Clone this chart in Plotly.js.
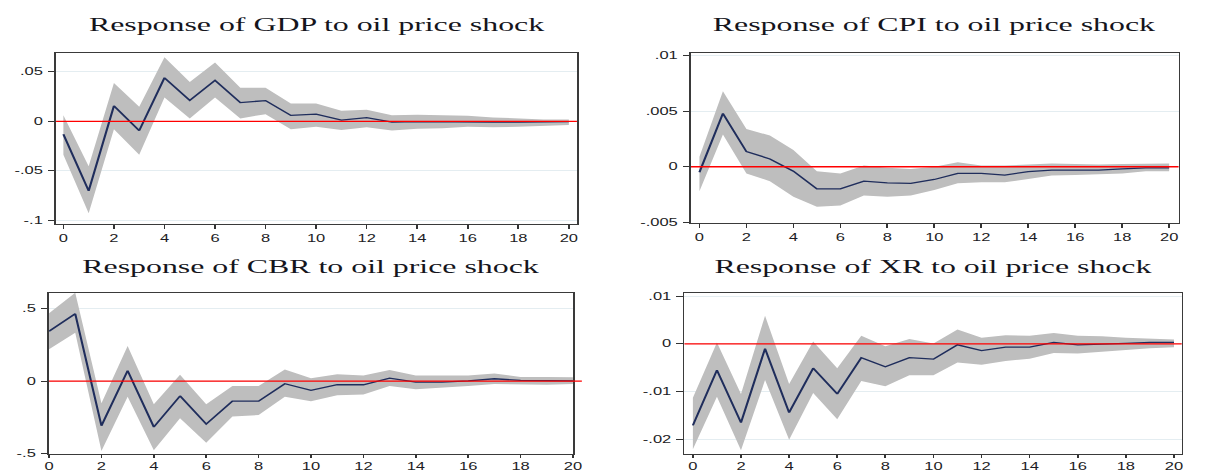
<!DOCTYPE html>
<html>
<head>
<meta charset="utf-8">
<script src="https://cdn.plot.ly/plotly-3.0.1.min.js"></script>
<style>
  html, body { margin: 0; padding: 0; background: #fff; overflow: hidden; }
  #wrap { width: 1208px; height: 471px; overflow: hidden; }
  /* the graph is laid out narrow and widened horizontally */
  #chart { width: 732px; height: 471px; transform: scaleX(1.6503); transform-origin: 0 0; }
</style>
</head>
<body>
<div id="wrap"><div id="chart"></div></div>
<script>
// Horizon (periods after the shock)
const steps = [0,1,2,3,4,5,6,7,8,9,10,11,12,13,14,15,16,17,18,19,20];

// Response of GDP
const gdpIrf = [-0.013,-0.070,0.0157,-0.0093,0.044,0.0213,0.0413,0.019,0.021,0.006,0.0073,0.0013,0.0037,-0.0007,-0.0003,-0.0002,-0.0004,-0.0007,-0.0007,-0.0005,-0.0003];
const gdpLo  = [-0.0337,-0.0927,-0.008,-0.0337,0.024,0.003,0.024,0.003,0.0073,-0.008,-0.0053,-0.0087,-0.006,-0.0093,-0.0073,-0.007,-0.0053,-0.006,-0.0053,-0.0043,-0.0037];
const gdpHi  = [0.0063,-0.0453,0.0387,0.0147,0.0647,0.0397,0.0593,0.034,0.034,0.018,0.018,0.0107,0.0117,0.0063,0.0067,0.0063,0.0057,0.004,0.0027,0.002,0.002];

// Response of CPI
const cpiIrf = [-0.0005,0.0048,0.00136,0.0007,-0.0004,-0.002,-0.002,-0.0013,-0.00145,-0.0015,-0.00115,-0.0006,-0.0006,-0.00075,-0.00045,-0.0003,-0.0003,-0.0003,-0.0002,-0.0001,-0.0001];
const cpiLo  = [-0.0022,0.0029,-0.0006,-0.0013,-0.0027,-0.0036,-0.0035,-0.0026,-0.0027,-0.0026,-0.0021,-0.0015,-0.0014,-0.0014,-0.0011,-0.0008,-0.00075,-0.0007,-0.0006,-0.0004,-0.0004];
const cpiHi  = [0.0009,0.0068,0.0034,0.0028,0.0015,-0.0004,-0.0006,0.0001,-0.0001,-0.0002,0.0,0.0004,0.0001,0.0001,0.0002,0.0003,0.00025,0.0002,0.00025,0.0003,0.0003];

// Response of CBR
const cbrIrf = [0.343,0.463,-0.307,0.072,-0.316,-0.102,-0.296,-0.138,-0.138,-0.018,-0.063,-0.025,-0.025,0.02,-0.007,-0.007,0.002,0.016,0.005,0.002,0.002];
const cbrLo  = [0.219,0.332,-0.481,-0.108,-0.476,-0.255,-0.424,-0.244,-0.233,-0.108,-0.138,-0.097,-0.093,-0.034,-0.056,-0.047,-0.034,-0.02,-0.025,-0.025,-0.02];
const cbrHi  = [0.467,0.607,-0.153,0.242,-0.16,0.043,-0.16,-0.034,-0.034,0.079,0.02,0.047,0.038,0.077,0.038,0.038,0.038,0.052,0.029,0.029,0.027];

// Response of XR
const xrIrf = [-0.0171,-0.0055,-0.0165,-0.001,-0.0144,-0.0051,-0.0105,-0.0029,-0.0048,-0.0029,-0.0032,-0.0002,-0.0014,-0.0007,-0.0007,0.0003,-0.0002,-0.0001,0.0001,0.0003,0.0003];
const xrLo  = [-0.0221,-0.0111,-0.0223,-0.0076,-0.0201,-0.0103,-0.0158,-0.0078,-0.0089,-0.0066,-0.0066,-0.0039,-0.0044,-0.0036,-0.0031,-0.0019,-0.002,-0.0016,-0.0012,-0.0009,-0.0007];
const xrHi  = [-0.0113,0.0003,-0.0105,0.0059,-0.0084,0.0005,-0.0051,0.0017,-0.0005,0.001,0.0001,0.003,0.0013,0.0018,0.0017,0.0023,0.0017,0.0016,0.0013,0.0011,0.0009];

// Panel titles and y tick labels
const titles = [
  "Response of GDP to oil price shock",
  "Response of CPI to oil price shock",
  "Response of CBR to oil price shock",
  "Response of XR to oil price shock"
];
const gdpTicks = [-0.1, -0.05, 0, 0.05];
const gdpTickText = ["-.1", "-.05", "0", ".05"];
const cpiTicks = [-0.005, 0, 0.005, 0.01];
const cpiTickText = ["-.005", "0", ".005", ".01"];
const cbrTicks = [-0.5, 0, 0.5];
const cbrTickText = ["-.5", "0", ".5"];
const xrTicks = [-0.02, -0.01, 0, 0.01];
const xrTickText = ["-.02", "-.01", "0", ".01"];

const BAND = "#bebebe";
const LINE = "#1f2d5c";
const ZERO = "#ff0000";

const panels = [
  { irf: gdpIrf, lo: gdpLo, hi: gdpHi, tv: gdpTicks, tt: gdpTickText,
    xdom: [0.0464, 0.4776], ydom: [0.5244, 0.8875], xr: [-0.29, 20.32], yr: [-0.1035, 0.069], zeroEnd: 1 },
  { irf: cpiIrf, lo: cpiLo, hi: cpiHi, tv: cpiTicks, tt: cpiTickText,
    xdom: [0.5720, 0.9756], ydom: [0.5265, 0.8875], xr: [-0.36, 20.40], yr: [-0.00507, 0.01024], zeroEnd: 1 },
  { irf: cbrIrf, lo: cbrLo, hi: cbrHi, tv: cbrTicks, tt: cbrTickText,
    xdom: [0.0406, 0.4743], ydom: [0.0365, 0.3786], xr: [0, 20], yr: [-0.5, 0.608], zeroEnd: 1.017 },
  { irf: xrIrf, lo: xrLo, hi: xrHi, tv: xrTicks, tt: xrTickText,
    xdom: [0.5666, 0.9782], ydom: [0.0360, 0.3773], xr: [-0.35, 20.32], yr: [-0.0231, 0.0106], zeroEnd: 1 }
];

const traces = [];
const layout = {
  width: 732, height: 471,
  margin: { l: 0, r: 0, t: 0, b: 0 },
  paper_bgcolor: "#ffffff",
  plot_bgcolor: "#ffffff",
  showlegend: false,
  hovermode: false,
  shapes: [],
  annotations: []
};

const tickFont = { family: "Liberation Sans, Arial, sans-serif", size: 10, color: "#1c1c24" };

panels.forEach((p, i) => {
  const n = i + 1;
  const xa = "x" + (n === 1 ? "" : n);
  const ya = "y" + (n === 1 ? "" : n);
  const xKey = "xaxis" + (n === 1 ? "" : n);
  const yKey = "yaxis" + (n === 1 ? "" : n);
  const lower = i >= 2;

  // confidence band
  traces.push({ x: steps, y: p.lo, xaxis: xa, yaxis: ya, type: "scatter", mode: "lines",
    line: { width: 0, color: BAND }, hoverinfo: "skip" });
  traces.push({ x: steps, y: p.hi, xaxis: xa, yaxis: ya, type: "scatter", mode: "lines",
    fill: "tonexty", fillcolor: BAND, line: { width: 0, color: BAND }, hoverinfo: "skip" });
  // impulse response
  traces.push({ x: steps, y: p.irf, xaxis: xa, yaxis: ya, type: "scatter", mode: "lines",
    line: { width: 1.3, color: LINE } });

  layout[xKey] = {
    domain: p.xdom, range: p.xr, anchor: ya,
    tickmode: "linear", tick0: 0, dtick: 2,
    ticks: "outside", ticklen: lower ? 3 : 4, tickwidth: 1, tickcolor: "#333",
    showline: true, linecolor: "#3a3a3a", linewidth: 1, mirror: true,
    showgrid: false, zeroline: false,
    tickfont: tickFont, ticklabelstandoff: lower ? 0 : 1
  };
  layout[yKey] = {
    domain: p.ydom, range: p.yr, anchor: xa,
    tickmode: "array", tickvals: p.tv, ticktext: p.tt,
    ticks: "outside", ticklen: 4, tickwidth: 1, tickcolor: "#333",
    showline: true, linecolor: "#3a3a3a", linewidth: 1, mirror: true,
    showgrid: true, gridcolor: "#e4edf1", gridwidth: 1, zeroline: false,
    tickfont: tickFont, ticklabelstandoff: 1
  };

  // zero reference line across the plot area
  const w = p.xdom[1] - p.xdom[0];
  layout.shapes.push({
    type: "line", layer: "above",
    xref: "paper", yref: ya,
    x0: p.xdom[0], x1: p.xdom[0] + w * p.zeroEnd, y0: 0, y1: 0,
    line: { color: ZERO, width: 1.4 }
  });

  // panel title
  const titleY = i < 2 ? 1 - 25 / 471 : 1 - 266 / 471;
  layout.annotations.push({
    text: titles[i], showarrow: false,
    xref: "paper", yref: "paper",
    x: (p.xdom[0] + p.xdom[1]) / 2, y: titleY,
    xanchor: "center", yanchor: "middle",
    font: { family: "Liberation Serif, Times New Roman, serif", size: 19.3, color: "#15151c" }
  });
});

Plotly.newPlot("chart", traces, layout, { staticPlot: true, displayModeBar: false });
</script>
</body>
</html>
